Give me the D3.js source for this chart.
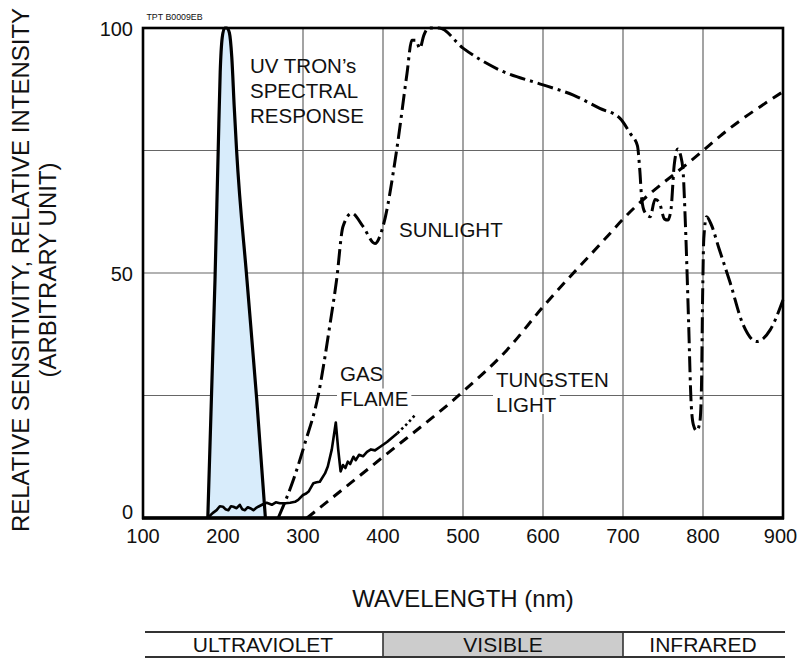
<!DOCTYPE html>
<html>
<head>
<meta charset="utf-8">
<script src="https://cdn.jsdelivr.net/npm/d3@7"></script>
<style>
    body { margin: 0; background: #fff; }
    svg { display: block; }
    text { font-family: "Liberation Sans", Arial, Helvetica, sans-serif; fill: #111; }
</style>
</head>
<body>
<svg id="chart"></svg>
<script>
// Axis ticks
const xTicks = [100, 200, 300, 400, 500, 600, 700, 800, 900];
const yTicks = [0, 50, 100];
const yGrid = [25, 50, 75];

// UV TRON spectral response [wavelength nm, relative value]
const uvTron = [[181, 0], [190, 48.6], [194, 75], [196.5, 91], [199, 98], [202, 100], [205, 100],
    [208, 99], [211, 94], [214, 84], [217, 75], [230, 48.5], [242, 24.5], [253, 0]];

// Gas flame (solid part, then dotted tail)
const gasFlame = [[182, 0.2], [187, 1.0], [192, 1.6], [196, 2.4], [200, 2.3], [203, 1.8], [206.7, 1.6],
    [210, 2.4], [213, 2.3], [217, 2.0], [221, 2.7], [224, 1.8], [227.5, 1.6], [231, 2.2], [234, 2.0],
    [238, 1.6], [241, 2.0], [244, 2.3], [250, 2.8], [254.6, 3.1], [258, 2.9], [261, 2.7], [266, 3.2],
    [271, 3.0], [278, 3.0], [284, 3.1], [290, 3.3], [294, 3.7], [300, 4.7], [304, 5.0], [307, 5.4],
    [313, 7.1], [317, 7.3], [321, 7.4], [327.5, 9.1], [331, 10.5], [336, 14], [341, 19.5], [344, 14],
    [347, 9.5], [350, 10.8], [353, 10.2], [356, 11.5], [359, 11.0], [363, 12.5], [366, 11.8],
    [370, 12.9], [375, 12.6], [380, 13.5], [385, 14.0], [390, 13.8], [397, 14.6], [405, 15.5],
    [412, 16.5], [418, 17.3]];
const gasFlameTail = [[418, 17.3], [430, 19.2], [440, 21]];

// Sunlight
const sunlight = [[269, 0], [288, 7.8], [302.5, 15.3], [319, 25], [334, 39.8], [342, 48.6],
    [350, 59.5], [361, 62.2], [375, 59.5], [390, 56], [400, 59.5], [417, 75], [430, 90.7],
    [436, 97.5], [441, 97.5], [446, 95.8], [451, 98.5], [457, 100], [470, 100], [500, 95.9],
    [546, 91.4], [600, 88.4], [638, 86.3], [671, 83.6], [696, 81.6], [709, 78.5], [718, 76],
    [721, 71], [723.5, 65], [727, 62.5], [734, 61.5], [740, 65], [745, 64.5], [752, 61], [756, 60.8],
    [760, 63], [764, 72], [768.5, 75.3], [772, 74], [775, 71], [778, 60], [782, 40], [785, 24],
    [788, 19], [792, 17.8], [796, 19.5], [798, 26], [799.5, 45], [801, 57], [804.5, 61.5],
    [810, 60], [820, 55], [834, 48], [850, 39.5], [867, 36], [884, 38.4], [900, 44.5]];

// Tungsten light
const tungsten = [[305, 0], [398, 12.2], [500, 25.8], [555, 34.3], [600, 43.1], [680, 57.4],
    [700, 61], [796, 74.4], [821, 77.9], [900, 87]];

// Spectrum band under the chart
const bandNames = ['ULTRAVIOLET', 'VISIBLE', 'INFRARED'];
const bandStart = [100, 400, 700];
const bandEnd = [400, 700, 900];

const width = 799;
const height = 659;

const svg = d3.select('#chart')
    .attr('width', width)
    .attr('height', height);

const x = d3.scaleLinear().domain([100, 900]).range([143, 783]);
const y = d3.scaleLinear().domain([0, 100]).range([518, 28]);

// Grid
svg.append('g')
    .selectAll('line')
    .data(xTicks.slice(1, -1))
    .join('line')
    .attr('x1', d => x(d)).attr('x2', d => x(d))
    .attr('y1', y(0)).attr('y2', y(100))
    .attr('stroke', '#666').attr('stroke-width', 1.2);

svg.append('g')
    .selectAll('line')
    .data(yGrid)
    .join('line')
    .attr('x1', x(100)).attr('x2', x(900))
    .attr('y1', d => y(d)).attr('y2', d => y(d))
    .attr('stroke', '#666').attr('stroke-width', 1.2);

const line = d3.line().x(d => x(d[0])).y(d => y(d[1]));
const smooth = d3.line().x(d => x(d[0])).y(d => y(d[1])).curve(d3.curveMonotoneX);

// UV TRON fill and outline
svg.append('path')
    .datum(uvTron)
    .attr('d', d3.area().x(d => x(d[0])).y0(y(0)).y1(d => y(d[1])).curve(d3.curveMonotoneX))
    .attr('fill', '#d8ecfb');

svg.append('path')
    .datum(uvTron)
    .attr('d', smooth)
    .attr('fill', 'none')
    .attr('stroke', '#000')
    .attr('stroke-width', 3.2);

// Gas flame
svg.append('path')
    .datum(gasFlame)
    .attr('d', line)
    .attr('fill', 'none')
    .attr('stroke', '#000')
    .attr('stroke-width', 2.6)
    .attr('stroke-linejoin', 'round');

svg.append('path')
    .datum(gasFlameTail)
    .attr('d', line)
    .attr('fill', 'none')
    .attr('stroke', '#000')
    .attr('stroke-width', 2.6)
    .attr('stroke-dasharray', '2.5 3');

// Tungsten light
svg.append('path')
    .datum(tungsten)
    .attr('d', smooth)
    .attr('fill', 'none')
    .attr('stroke', '#000')
    .attr('stroke-width', 3)
    .attr('stroke-dasharray', '10 7');

// Sunlight
svg.append('path')
    .datum(sunlight)
    .attr('d', smooth)
    .attr('fill', 'none')
    .attr('stroke', '#000')
    .attr('stroke-width', 3)
    .attr('stroke-dasharray', '16 5 3 5');

// Curve labels, some on white so the grid stops at them
const labels = [
    {lines: ['UV TRON\u2019s', 'SPECTRAL', 'RESPONSE'], x: 250, y: 72.5, bg: false},
    {lines: ['SUNLIGHT'], x: 399, y: 236.5, bg: false},
    {lines: ['GAS', 'FLAME'], x: 340, y: 380.5, bg: true},
    {lines: ['TUNGSTEN', 'LIGHT'], x: 496, y: 387, bg: true}
];

labels.forEach(l => {
    const g = svg.append('g');
    l.lines.forEach((t, i) => {
        const txt = g.append('text')
            .attr('x', l.x)
            .attr('y', l.y + i * 25)
            .attr('font-size', 20.5)
            .text(t);
        if (l.bg && i === l.lines.length - 1) {
            const b = txt.node().getBBox();
            g.insert('rect', 'text')
                .attr('x', b.x - 3).attr('y', b.y + 2)
                .attr('width', b.width + 6).attr('height', b.height - 4)
                .attr('fill', '#fff');
        }
    });
});

// Border
svg.append('rect')
    .attr('x', x(100)).attr('y', y(100))
    .attr('width', x(900) - x(100)).attr('height', y(0) - y(100))
    .attr('fill', 'none').attr('stroke', '#000').attr('stroke-width', 2.6);

svg.append('line')
    .attr('x1', x(100) - 1).attr('x2', x(900) + 1)
    .attr('y1', y(0)).attr('y2', y(0))
    .attr('stroke', '#000').attr('stroke-width', 3.6);

// Tick labels (the last one is nudged in so it stays inside the page)
svg.append('g')
    .selectAll('text')
    .data(xTicks)
    .join('text')
    .attr('x', d => d === 900 ? x(d) - 2.5 : x(d))
    .attr('y', 543)
    .attr('text-anchor', 'middle')
    .attr('font-size', 20)
    .text(d => d);

svg.append('g')
    .selectAll('text')
    .data(yTicks)
    .join('text')
    .attr('x', 133)
    .attr('y', d => d === 0 ? y(d) + 1 : y(d) + 7.5)
    .attr('text-anchor', 'end')
    .attr('font-size', 20)
    .text(d => d);

// Code in the corner
svg.append('text')
    .attr('x', 146.5).attr('y', 20)
    .attr('font-size', 8.8)
    .text('TPT B0009EB');

// Axis titles
svg.append('text')
    .attr('x', x(500)).attr('y', 606.5)
    .attr('text-anchor', 'middle')
    .attr('font-size', 24)
    .text('WAVELENGTH (nm)');

svg.append('text')
    .attr('transform', 'translate(29,270) rotate(-90)')
    .attr('text-anchor', 'middle')
    .attr('font-size', 24)
    .text('RELATIVE SENSITIVITY, RELATIVE INTENSITY');

svg.append('text')
    .attr('transform', 'translate(56,270) rotate(-90)')
    .attr('text-anchor', 'middle')
    .attr('font-size', 24)
    .text('(ARBITRARY UNIT)');

// Spectrum band
const band = svg.append('g');
const bandTop = 632;
const bandBottom = 657;

band.selectAll('rect')
    .data(bandNames)
    .join('rect')
    .attr('x', (d, i) => x(bandStart[i]))
    .attr('y', bandTop)
    .attr('width', (d, i) => x(bandEnd[i]) - x(bandStart[i]))
    .attr('height', bandBottom - bandTop)
    .attr('fill', d => d === 'VISIBLE' ? '#cccccc' : '#fff');

band.selectAll('text')
    .data(bandNames)
    .join('text')
    .attr('x', (d, i) => (x(bandStart[i]) + x(bandEnd[i])) / 2)
    .attr('y', 652)
    .attr('text-anchor', 'middle')
    .attr('font-size', 21)
    .text(d => d);

[bandTop, bandBottom].forEach(yy => {
    band.append('line')
        .attr('x1', x(100) + 2).attr('x2', x(900) + 2)
        .attr('y1', yy).attr('y2', yy)
        .attr('stroke', '#333').attr('stroke-width', 2);
});

band.selectAll('line.div')
    .data(bandStart.slice(1))
    .join('line')
    .attr('class', 'div')
    .attr('x1', d => x(d)).attr('x2', d => x(d))
    .attr('y1', bandTop).attr('y2', bandBottom)
    .attr('stroke', '#333').attr('stroke-width', 1.6);
</script>
</body>
</html>
